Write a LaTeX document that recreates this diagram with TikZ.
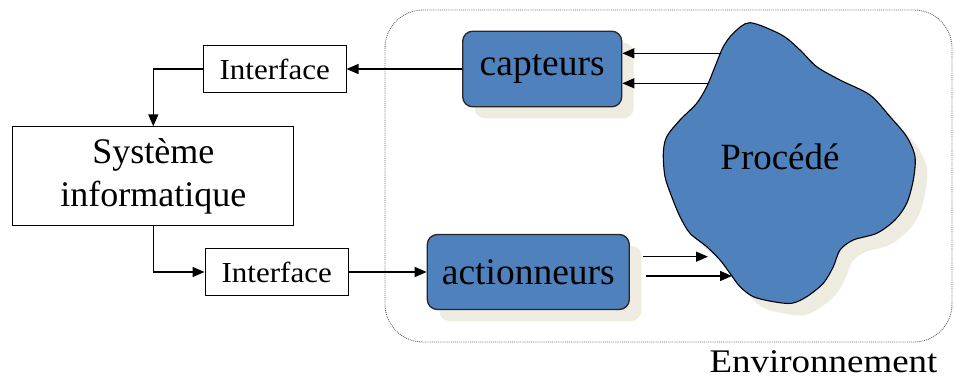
\documentclass[tikz,border=0pt]{standalone}
\usepackage{fontspec}
\setmainfont{Liberation Serif}
\usetikzlibrary{arrows.meta}
\definecolor{boxblue}{HTML}{4F81BD}
\definecolor{shadowtan}{HTML}{EEECE1}
\begin{document}
\begin{tikzpicture}[x=1pt,y=-1pt,
  arr/.style={-{Triangle[length=12pt,width=10pt]}, line width=1.4pt},
  bluebox/.style={draw=black!85, line width=1.3pt, fill=boxblue, rounded corners=10pt, inner sep=0pt, font=\fontsize{37.5}{43}\selectfont},
  shadowbox/.style={fill=shadowtan, rounded corners=10pt},
  whitebox/.style={draw, line width=1pt, fill=white, inner sep=0pt},
  envbox/.style={draw=black!60, densely dotted, line width=0.9pt, rounded corners=38pt},
  bigtext/.style={font=\fontsize{36}{43}\selectfont, align=center},
  smalltext/.style={font=\fontsize{29}{34}\selectfont},
]
\useasboundingbox (0,0) rectangle (955,379);

% environment
\draw[envbox] (385,10) rectangle (952,342);
\node[anchor=base, inner sep=0pt, font=\fontsize{33}{40}\selectfont] (env) at (823.5,372) {\scalebox{1.12}[1]{Environnement}};

% shadows
\fill[shadowbox] (474.7,42.7) rectangle (633.7,118.3);
\fill[shadowbox] (439.3,246) rectangle (641.3,321);

% blob
\def\blobpts{(750,22.7) (781.7,35) (800,50) (816.7,66.7) (840,80) (870,95) (890,116.7) (906.7,136.7) (915,156.7) (913.3,180) (906.7,203.3) (895,220) (876.7,233.3) (853.3,240) (840,250) (833.3,266.7) (823.3,283.3) (806.7,296.7) (791.7,303.3) (773.3,301.7) (753.3,296.7) (740,286.7) (730,273.3) (720,260) (706.7,246.7) (690,233.3) (680,216.7) (671.7,196.7) (665,176.7) (663.3,153.3) (666.7,136.7) (680,120) (696.7,103.3) (706.7,86.7) (715,66.7) (723.3,46.7) (733.3,33.3)}
\fill[shadowtan, shift={(12pt,-12pt)}] plot[smooth cycle, tension=0.5] coordinates {\blobpts};
\draw[fill=boxblue, line width=1.1pt] plot[smooth cycle, tension=0.5] coordinates {\blobpts};
\node[inner sep=0pt, anchor=base, font=\fontsize{37}{43}\selectfont] (proc) at (780,170) {Procédé};

% boxes
\node[bluebox, minimum width=159pt, minimum height=75.6pt] (capt) at (542.2,69) {capteurs};
\node[bluebox, minimum width=202pt, minimum height=75pt] (act) at (528.3,272) {actionneurs};
\node[whitebox, smalltext, minimum width=142.7pt, minimum height=46.7pt] (if1) at (274.7,69) {\scalebox{1.07}[1]{Interface}};
\node[whitebox, smalltext, minimum width=143.3pt, minimum height=46.7pt] (if2) at (276.7,272) {\scalebox{1.07}[1]{Interface}};
\node[whitebox, bigtext, minimum width=281.3pt, minimum height=98.3pt] (sys) at (153.3,176) {Système\\informatique};

% connector end points on the process outline
\coordinate (s1) at (721,53.3);
\coordinate (s2) at (708,83.3);
\coordinate (a1) at (642.7,256.7);
\coordinate (a1t) at (708,256.7);
\coordinate (a2) at (646,276);
\coordinate (a2t) at (732,276);

% connectors
\draw[arr] (s1) -- (s1 -| capt.east);
\draw[arr] (s2) -- (s2 -| capt.east);
\draw[arr] (a1) -- (a1t);
\draw[arr] (a2) -- (a2t);
\draw[arr] (capt.west) -- (if1.east);
\draw[arr] (if1.west) -| (sys.north);
\draw[arr] (sys.south) |- (if2.west);
\draw[arr] (if2.east) -- (act.west);
\end{tikzpicture}
\end{document}
